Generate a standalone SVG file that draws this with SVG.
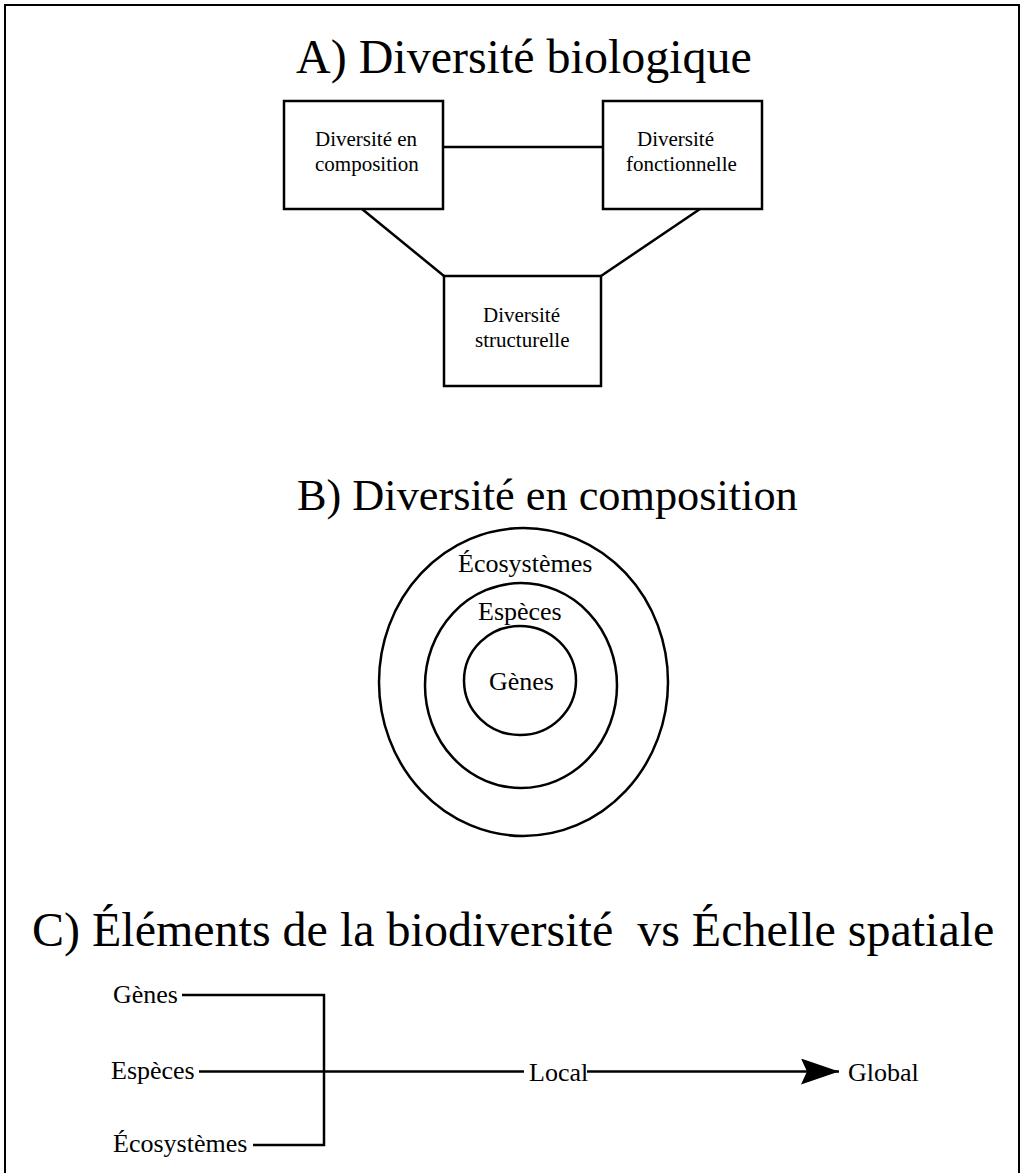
<svg xmlns="http://www.w3.org/2000/svg" width="1024" height="1173" viewBox="0 0 1024 1173">
<style>
text{font-family:"Liberation Serif","Times New Roman",serif;fill:#000;white-space:pre}
.t{font-size:48px}
.tb{font-size:44.3px}
.s{font-size:21px}
.m{font-size:26px}
.box{fill:#fff;stroke:#000;stroke-width:2.5}
.ln{fill:none;stroke:#000;stroke-width:2.5}
</style>
<defs>
<marker id="arr" markerUnits="userSpaceOnUse" markerWidth="40" markerHeight="30" refX="38" refY="13" orient="auto">
<path d="M0,0 L38,13 L0,26 L6,13 Z" fill="#000"/>
</marker>
</defs>
<rect x="5" y="5" width="1014" height="1180" fill="#fff" stroke="#000" stroke-width="2"/>
<text class="t" x="296" y="73">A) Diversité biologique</text>
<g id="connectors">
<line class="ln" x1="443" y1="147" x2="603" y2="147"/>
<line class="ln" x1="362" y1="209" x2="444" y2="276"/>
<line class="ln" x1="700" y1="209" x2="601" y2="276"/>
</g>
<g id="n-composition">
<rect class="box" x="284" y="101" width="159" height="108"/>
<text class="s" x="315" y="146">Diversité en</text>
<text class="s" x="315" y="171">composition</text>
</g>
<g id="n-fonctionnelle">
<rect class="box" x="603" y="101" width="159" height="108"/>
<text class="s" x="637" y="146">Diversité</text>
<text class="s" x="626" y="171">fonctionnelle</text>
</g>
<g id="n-structurelle">
<rect class="box" x="444" y="276" width="157" height="110"/>
<text class="s" x="483" y="322">Diversité</text>
<text class="s" x="475" y="347">structurelle</text>
</g>
<text class="tb" x="297" y="510">B) Diversité en composition</text>
<g id="circles">
<ellipse class="ln" cx="523.5" cy="682" rx="144.5" ry="154"/>
<ellipse class="ln" cx="521" cy="685.5" rx="96" ry="102.5"/>
<ellipse class="ln" cx="520" cy="680.5" rx="56" ry="54.5"/>
<text class="m" x="458" y="572">Écosystèmes</text>
<text class="m" x="478" y="620">Espèces</text>
<text class="m" x="489" y="690">Gènes</text>
</g>
<text class="t" x="32" y="946">C) Éléments de la biodiversité  vs Échelle spatiale</text>
<g id="c-connectors">
<polyline class="ln" points="182,995 324,995 324,1145 253,1145"/>
<line class="ln" x1="199" y1="1071.5" x2="524" y2="1071.5"/>
<line class="ln" x1="587" y1="1071.5" x2="839" y2="1071.5" marker-end="url(#arr)"/>
</g>
<g id="c-labels">
<text class="m" x="113" y="1003">Gènes</text>
<text class="m" x="111" y="1079">Espèces</text>
<text class="m" x="113" y="1152">Écosystèmes</text>
<text class="m" x="529" y="1081">Local</text>
<text class="m" x="848" y="1081">Global</text>
</g>
</svg>
